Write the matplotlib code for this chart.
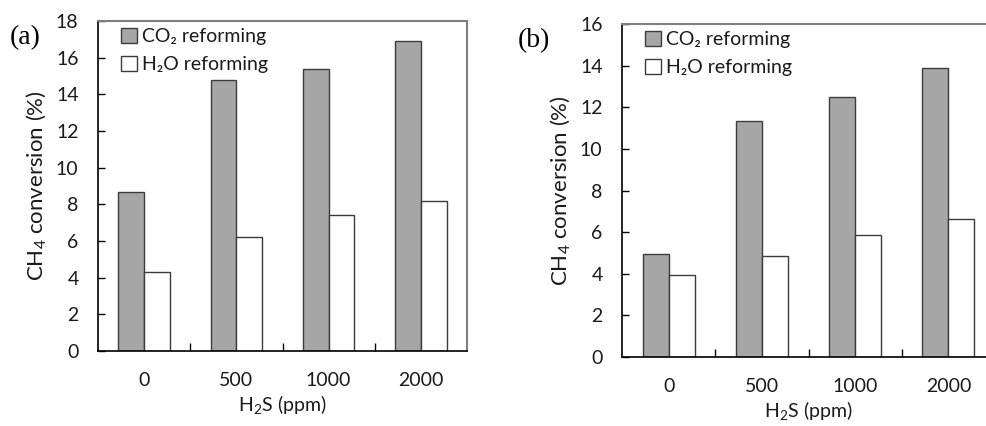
import numpy as np
import matplotlib.pyplot as plt
from matplotlib.patches import Patch

plt.rcParams['font.family'] = ['Lato', 'DejaVu Sans']
plt.rcParams['mathtext.default'] = 'regular'

# H2S levels
h2s_labels = ['0', '500', '1000', '2000']

# panel (a)
co2_a = [8.7, 14.8, 15.4, 16.9]
h2o_a = [4.3, 6.2, 7.4, 8.2]

# panel (b)
co2_b = [4.95, 11.35, 12.5, 13.9]
h2o_b = [3.95, 4.85, 5.85, 6.65]

W, H = 986, 426
fig = plt.figure(figsize=(W / 100, H / 100), dpi=100)

txt = '#1a1a1a'
edge = '#3c3c3c'
gray_fill = '#a6a6a6'
frame_gray = '#7f7f7f'
fs = 14


def panel(rect, co2, h2o, ymax, tag, tag_xy):
    l, r, t, b = rect
    ax = fig.add_axes([l / W, 1 - b / H, (r - l) / W, (b - t) / H])
    x = np.arange(len(h2s_labels))
    w = 0.28
    ax.bar(x - w / 2, co2, w, color=gray_fill, edgecolor=edge, linewidth=1.0, zorder=2)
    ax.bar(x + w / 2, h2o, w, color='white', edgecolor=edge, linewidth=1.0, zorder=2)

    ax.set_xlim(-0.5, len(h2s_labels) - 0.5)
    ax.set_ylim(0, ymax)
    ax.set_yticks(np.arange(0, ymax + 1, 2))

    # boundary ticks without labels, labels at group centres
    ax.set_xticks(x[:-1] + 0.5)
    ax.set_xticklabels([])
    ax.set_xticks(x, minor=True)
    ax.set_xticklabels(h2s_labels, minor=True)
    ax.tick_params(axis='x', which='major', direction='in', length=6, width=1, color='black')
    ax.tick_params(axis='x', which='minor', length=0, pad=15, labelsize=fs, labelcolor=txt)
    ax.tick_params(axis='y', direction='in', length=5, width=1, pad=14,
                   labelsize=fs, labelcolor=txt)

    for s in ['left', 'bottom']:
        ax.spines[s].set_color('black')
        ax.spines[s].set_linewidth(1.2)
    for s in ['top', 'right']:
        ax.spines[s].set_color(frame_gray)
        ax.spines[s].set_linewidth(1.5)

    ax.set_ylabel('CH$_4$ conversion (%)', fontsize=16, color=txt, labelpad=6)
    ax.set_xlabel('H$_2$S (ppm)', fontsize=fs, color=txt, labelpad=3)

    handles = [Patch(facecolor=gray_fill, edgecolor=edge, linewidth=1.0),
               Patch(facecolor='white', edgecolor=edge, linewidth=1.0)]
    ax.legend(handles, ['CO₂ reforming', 'H₂O reforming'], loc='upper left',
              bbox_to_anchor=(0.03, 1.015), frameon=False, fontsize=fs,
              handlelength=0.85, handleheight=0.85, handletextpad=0.25,
              labelspacing=0.55, borderaxespad=0.2, labelcolor=txt)

    fig.text(tag_xy[0] / W, 1 - tag_xy[1] / H, tag, family='Liberation Serif',
             fontsize=20, color='black', va='center', ha='left')
    return ax


panel((98, 467, 21, 351), co2_a, h2o_a, 18, '(a)', (10, 38))
panel((622, 995, 24, 357), co2_b, h2o_b, 16, '(b)', (518, 41))

fig.savefig('out.png', dpi=100)
